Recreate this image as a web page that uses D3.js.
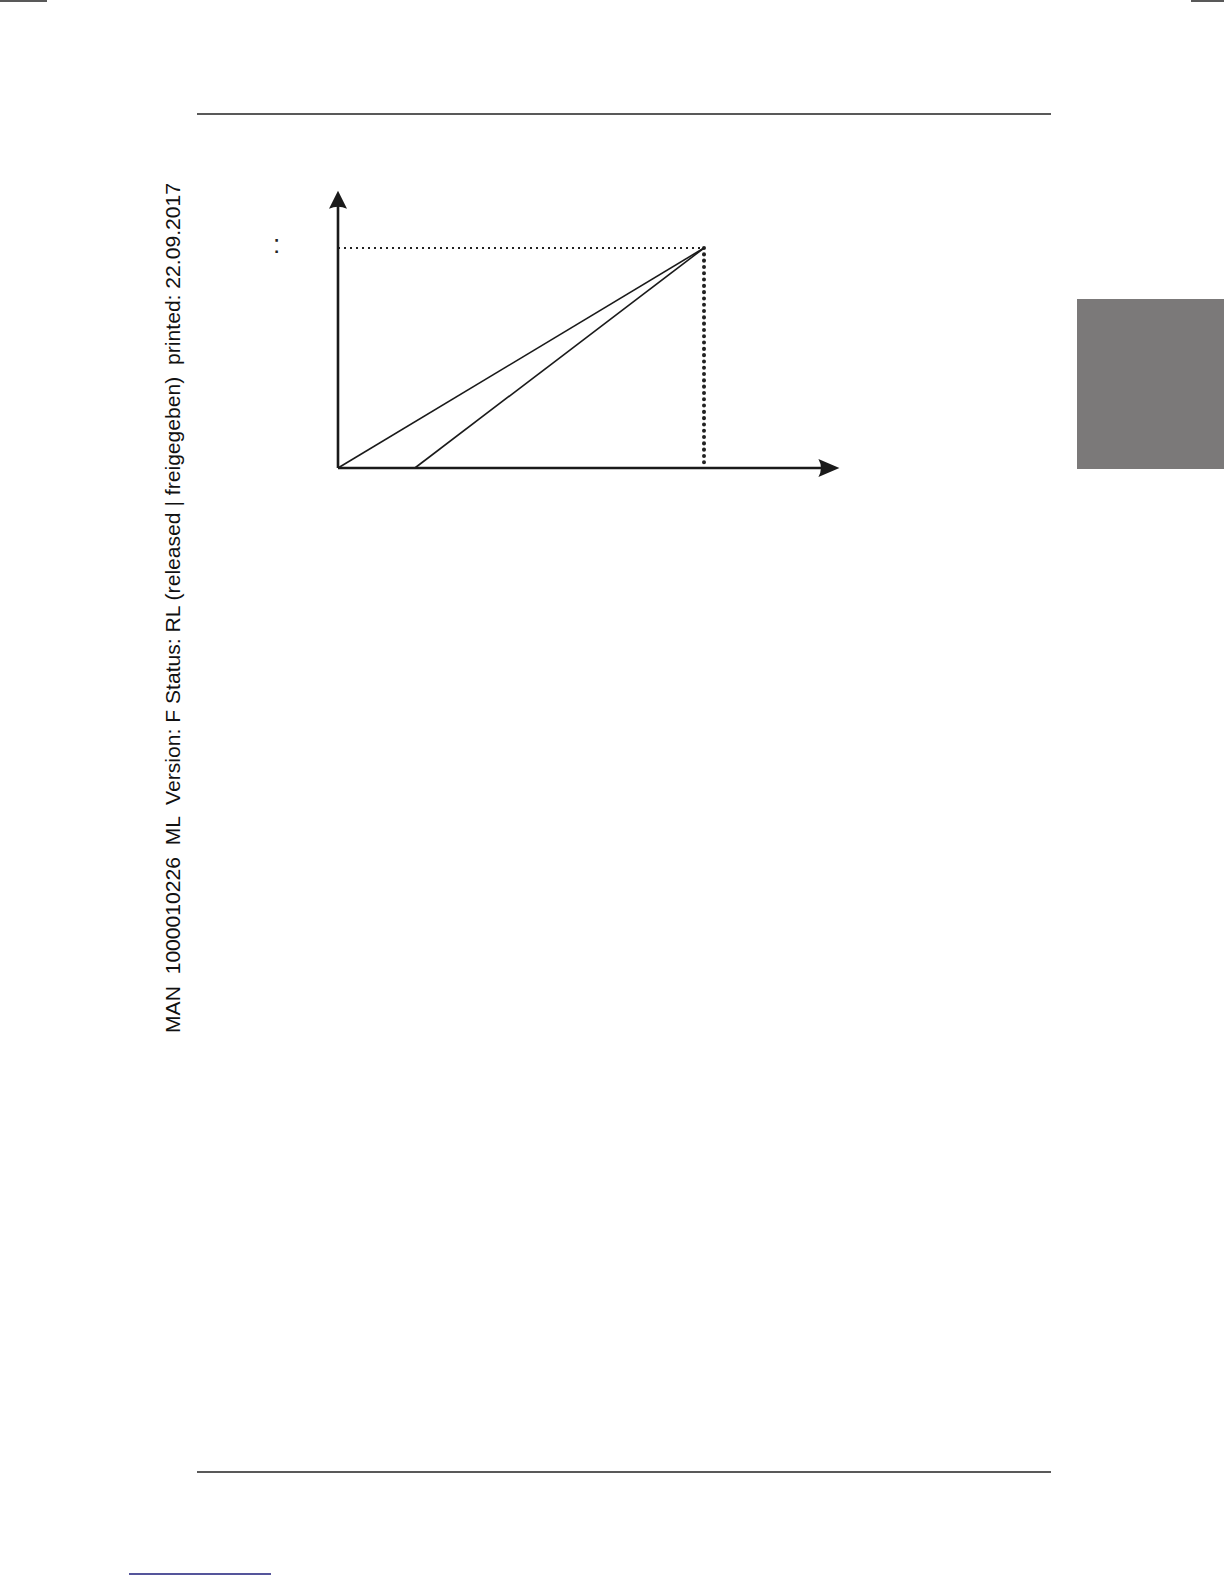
<!DOCTYPE html>
<html lang="en">
<head>
<meta charset="utf-8">
<script src="https://d3js.org/d3.v7.min.js"></script>
<style type="text/css">
body { margin: 0; background: #fff; }
svg { display: block; }
.axis { fill: none; stroke: #1a1a1a; stroke-width: 2.6; }
.ramp { fill: none; stroke: #1a1a1a; stroke-width: 1.6; }
.guide-h { fill: none; stroke: #222; stroke-width: 2.2; stroke-dasharray: 2 4; }
.guide-v { fill: none; stroke: #222; stroke-width: 4; stroke-dasharray: 0.1 6.2; stroke-linecap: round; }
.rule { stroke: #222; stroke-width: 1.6; }
</style>
</head>
<body>
<script type="text/javascript">
// chart values (abstract units: target point = 1,1)
var rampA = [[0, 0], [1, 1]];
var rampB = [[0.21, 0], [1, 1]];
var target = [1, 1];
var axisEnd = [1.37, 1.26];
var sideText = "MAN  1000010226  ML  Version: F Status: RL (released | freigegeben)  printed: 22.09.2017";
var yLabel = ":";

var width = 1224, height = 1584;

var svg = d3.select("body").append("svg")
    .attr("width", width)
    .attr("height", height);

var x = d3.scaleLinear().domain([0, 1]).range([338, 704]);
var y = d3.scaleLinear().domain([0, 1]).range([468, 248]);

var line = d3.line()
    .x(function(d) { return x(d[0]); })
    .y(function(d) { return y(d[1]); });

// page furniture
svg.append("line").attr("class", "rule").attr("x1", 0).attr("x2", 47).attr("y1", 1).attr("y2", 1);
svg.append("line").attr("class", "rule").attr("x1", 1191).attr("x2", 1224).attr("y1", 1).attr("y2", 1);
svg.append("line").attr("class", "rule").attr("x1", 197).attr("x2", 1051).attr("y1", 114).attr("y2", 114);
svg.append("line").attr("class", "rule").attr("x1", 197).attr("x2", 1051).attr("y1", 1472).attr("y2", 1472);
svg.append("line").attr("x1", 129).attr("x2", 271).attr("y1", 1574).attr("y2", 1574)
    .attr("stroke", "#1c1c7a").attr("stroke-width", 1.6);

svg.append("rect")
    .attr("x", 1077).attr("y", 299)
    .attr("width", 147).attr("height", 170)
    .attr("fill", "#7b7979");

svg.append("text")
    .attr("transform", "translate(180,1033) rotate(-90)")
    .attr("textLength", 850)
    .attr("lengthAdjust", "spacingAndGlyphs")
    .style("white-space", "pre")
    .style("font-family", "'Liberation Sans', Arial, sans-serif")
    .style("font-size", "21px")
    .attr("fill", "#111")
    .text(sideText);

// guides to the target point
svg.append("path").attr("class", "guide-h")
    .attr("d", line([[0, target[1]], target]));
svg.append("path").attr("class", "guide-v")
    .attr("d", line([target, [target[0], 0]]));

// ramps
svg.append("path").datum(rampA).attr("class", "ramp").attr("d", line);
svg.append("path").datum(rampB).attr("class", "ramp").attr("d", line);

// axes
svg.append("path").attr("class", "axis")
    .attr("d", line([[0, 0], [0, axisEnd[1] - 0.05]]));
svg.append("path").attr("class", "axis")
    .attr("d", line([[0, 0], [axisEnd[0] - 0.03, 0]]));

// arrow heads
var ty = y(axisEnd[1]), ox = x(0);
svg.append("path")
    .attr("d", "M" + ox + "," + ty + " L" + (ox + 9) + "," + (ty + 18) + " Q" + ox + "," + (ty + 14) + " " + (ox - 9) + "," + (ty + 18) + " Z")
    .attr("fill", "#1a1a1a");
var tx = x(axisEnd[0]), oy = y(0);
svg.append("path")
    .attr("d", "M" + tx + "," + oy + " L" + (tx - 21) + "," + (oy - 9) + " Q" + (tx - 16) + "," + oy + " " + (tx - 21) + "," + (oy + 9) + " Z")
    .attr("fill", "#1a1a1a");

svg.append("text")
    .attr("x", 273).attr("y", y(target[1]) + 5)
    .style("font-family", "'Liberation Sans', Arial, sans-serif")
    .style("font-size", "26px")
    .attr("fill", "#222")
    .text(yLabel);
</script>
</body>
</html>
